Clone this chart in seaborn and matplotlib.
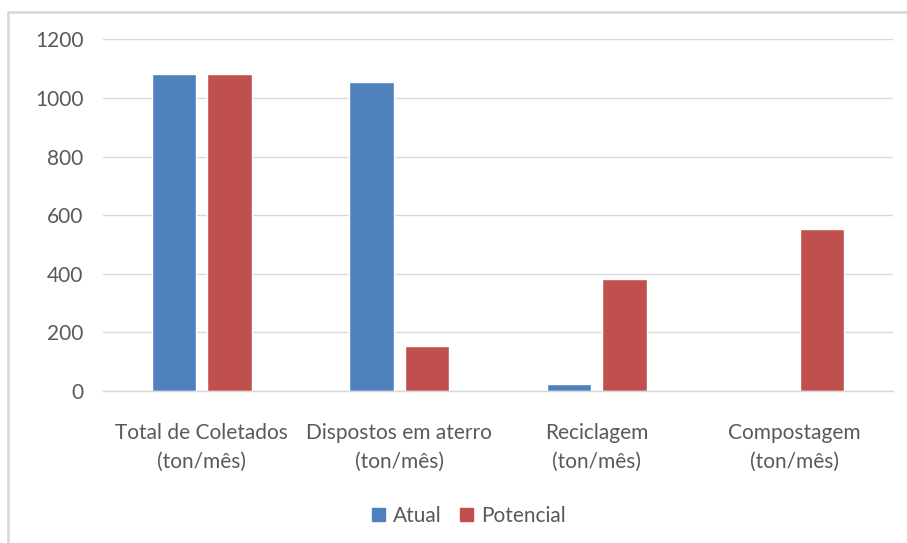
import matplotlib
matplotlib.use("Agg")
import matplotlib.pyplot as plt
from matplotlib.lines import Line2D
import seaborn as sns
import pandas as pd

categories = ["Total de Coletados\n(ton/mês)", "Dispostos em aterro\n(ton/mês)",
              "Reciclagem\n(ton/mês)", "Compostagem\n(ton/mês)"]
series_names = ["Atual", "Potencial"]
atual = [1080, 1055, 24, 0]
potencial = [1080, 153, 382, 552]
yticks = [0, 200, 400, 600, 800, 1000, 1200]
colors = ["#4F81BD", "#C0504D"]

df = pd.DataFrame({
    "cat": categories * 2,
    "serie": [series_names[0]] * 4 + [series_names[1]] * 4,
    "valor": atual + potencial,
})

sns.set_theme(style="white")
plt.rcParams["font.family"] = ["Lato", "DejaVu Sans"]

W, H = 907, 543
fig = plt.figure(figsize=(W / 100, H / 100), dpi=100)
ax = fig.add_axes([103 / W, 1 - 391 / H, 790 / W, (391 - 39.3) / H])

sns.barplot(data=df, x="cat", y="valor", hue="serie", palette=colors,
            width=0.56, gap=0.2, ax=ax, saturation=1, legend=True)

ax.set_xlim(-0.5, 3.5)
ax.set_ylim(0, 1200)
ax.set_yticks(yticks)
ax.set_yticklabels([str(v) for v in yticks])
ax.yaxis.grid(True, color="#D9D9D9", linewidth=1)
ax.set_axisbelow(True)
for s in ["top", "right", "left"]:
    ax.spines[s].set_visible(False)
ax.spines["bottom"].set_color("#D9D9D9")
ax.spines["bottom"].set_linewidth(1)
ax.tick_params(axis="y", length=0, pad=14, labelsize=15, labelcolor="#595959")
ax.tick_params(axis="x", length=0, pad=23, labelsize=15, labelcolor="#595959")
for lbl in ax.get_xticklabels():
    lbl.set_linespacing(1.55)
ax.set_xlabel("")
ax.set_ylabel("")

ax.legend_.remove()
handles = [plt.Rectangle((0, 0), 1, 1, color=c) for c in colors]
fig.legend(handles, series_names, loc="center", bbox_to_anchor=(469 / W, 1 - 516 / H),
           ncol=2, frameon=False, fontsize=15, labelcolor="#595959",
           handlelength=0.6, handleheight=0.6, handletextpad=0.4, columnspacing=0.9)

# chart-area border
fig.add_artist(Line2D([8 / W, 8 / W], [0, 1 - 12 / H], transform=fig.transFigure,
                      color="#D9D9D9", linewidth=2))
fig.add_artist(Line2D([8 / W, 1], [1 - 12 / H, 1 - 12 / H], transform=fig.transFigure,
                      color="#D9D9D9", linewidth=2))

fig.savefig("out.png", dpi=100)
